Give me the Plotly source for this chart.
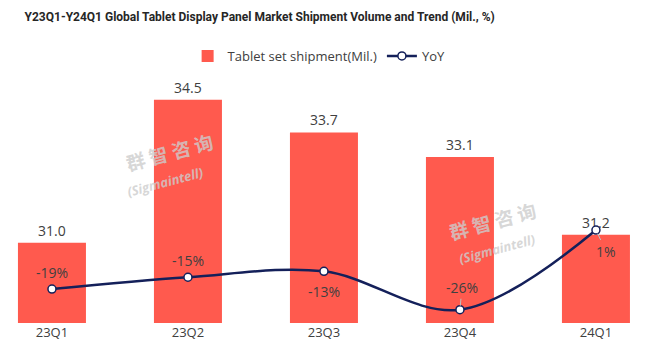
import plotly.graph_objects as go

categories = ["23Q1", "23Q2", "23Q3", "23Q4", "24Q1"]
shipment = [31.0, 34.5, 33.7, 33.1, 31.2]
yoy = [-19, -15, -13, -26, 1]
yoy_labels = ["-19%", "-15%", "-13%", "-26%", "1%"]
yoy_label_dy = [-17, -17, 20, -22, 21]
yoy_label_dx = [0, 0, 0, 2, 10]
yoy_leader = [False, False, False, True, True]

BAR = "#FF5A4E"
LINE = "#14205A"
TXT = "#404040"
FONT = "Open Sans"
TITLE_FONT = "Roboto"

fig = go.Figure()
fig.add_trace(go.Bar(
    x=categories, y=shipment, name="Tablet set shipment(Mil.)",
    marker=dict(color=BAR, line=dict(width=0)),
    text=[f"{v:.1f}" for v in shipment], textposition="outside",
    textfont=dict(size=14, color=TXT, family=FONT), cliponaxis=False,
))
fig.add_trace(go.Scatter(
    x=categories, y=yoy, name="YoY", yaxis="y2", mode="lines+markers",
    line=dict(color=LINE, width=2.5, shape="spline", smoothing=1.0),
    marker=dict(size=8, color="white", line=dict(color=LINE, width=1.5)),
    cliponaxis=False,
))

for c, v, lab, dy, dx, lead in zip(categories, yoy, yoy_labels, yoy_label_dy, yoy_label_dx, yoy_leader):
    if lead:
        fig.add_annotation(x=c, y=v, yref="y2", text=lab, showarrow=True,
                           ax=dx, ay=dy, arrowhead=0, arrowwidth=1, arrowcolor="#BFBFBF",
                           standoff=4, font=dict(size=14, color=TXT, family=FONT))
    else:
        fig.add_annotation(x=c, y=v, yref="y2", text=lab, showarrow=False,
                           yshift=-dy, xshift=dx,
                           font=dict(size=14, color=TXT, family=FONT))

wm_color = "rgba(205,205,205,0.8)"
for (cx, cy, sx, sy) in [(0.263, 0.698, 0.255, 0.576), (0.762, 0.42, 0.769, 0.302)]:
    fig.add_annotation(xref="paper", yref="paper", x=cx, y=cy, text="<b>群 智 咨 询</b>",
                       showarrow=False, textangle=-15, xanchor="center", yanchor="middle",
                       font=dict(size=19, color=wm_color, family="Noto Sans CJK SC"))
    fig.add_annotation(xref="paper", yref="paper", x=sx, y=sy, text="<b><i>(Sigmaintell)</i></b>",
                       showarrow=False, textangle=-15, xanchor="center", yanchor="middle",
                       font=dict(size=13, color=wm_color, family=FONT))

fig.update_layout(
    width=646, height=356,
    margin=dict(l=0, r=0, t=78, b=33),
    paper_bgcolor="white", plot_bgcolor="white",
    title=dict(text="<b>Y23Q1-Y24Q1 Global Tablet Display Panel Market Shipment Volume and Trend (Mil., %)</b>",
               x=0.038, xanchor="left", y=0.952, yanchor="middle",
               font=dict(size=12, color="#262626", family=TITLE_FONT)),
    bargap=0.5,
    showlegend=True,
    legend=dict(orientation="h", x=0.494, xanchor="center", y=1.09, yanchor="middle",
                font=dict(size=13, color=TXT, family=FONT), bgcolor="rgba(0,0,0,0)",
                itemwidth=30),
    xaxis=dict(range=[-0.382, 4.368], showgrid=False, showline=False, ticks="",
               tickfont=dict(size=13, color=TXT, family=FONT)),
    yaxis=dict(range=[29.04, 35.03], visible=False),
    yaxis2=dict(range=[-30.5, 52.5], overlaying="y", side="right", visible=False),
)

fig.write_html("out.html", config={"displayModeBar": False},
               post_script="document.body.style.margin='0';")
